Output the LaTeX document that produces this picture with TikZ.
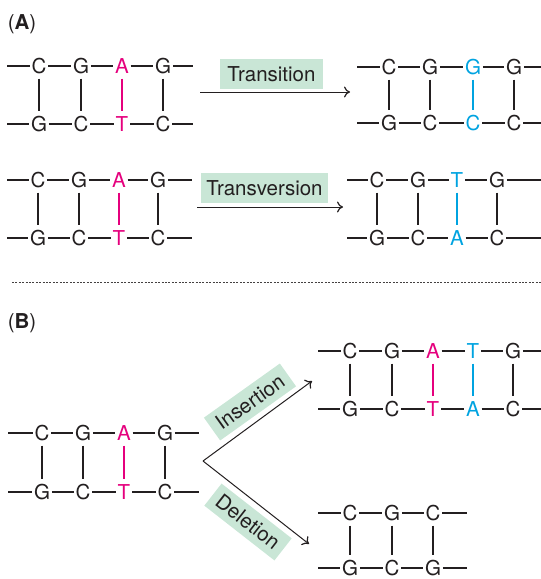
\documentclass[tikz,border=0pt]{standalone}
\usepackage{fontspec}
\setmainfont{TeX Gyre Heros}
\usetikzlibrary{arrows.meta}
\definecolor{ink}{RGB}{35,31,32}
\definecolor{mag}{RGB}{229,0,125}
\definecolor{cyn}{RGB}{0,163,224}
\definecolor{boxg}{RGB}{201,230,214}
\tikzset{
  nt/.style={font=\fontsize{20.5}{20.5}\selectfont, inner xsep=1.6pt, inner ysep=1pt, text height=14.7pt, text depth=0pt},
  strand/.style={draw=ink, line width=1.3pt},
  bar/.style={line width=1.1pt},
  lab/.style={fill=boxg, text=ink, font=\fontsize{20.5}{20.5}\selectfont, inner xsep=5pt, minimum height=30pt, text height=14.5pt, text depth=0pt},
  arr/.style={draw=ink, line width=1pt, -{Computer Modern Rightarrow[length=6pt,width=11pt,line width=1.2pt]}},
  plabel/.style={text=ink, font=\fontsize{20.5}{20.5}\selectfont, inner sep=0pt}
}
% #1 prefix, #2 top y, #3 bottom y, #4 line start x, #5 line end x, #6 count, #7 list x/top/bottom/colour
\newcommand{\mydna}[7]{%
  \coordinate (#1ts) at (#4,#2); \coordinate (#1te) at (#5,#2);
  \coordinate (#1bs) at (#4,#3); \coordinate (#1be) at (#5,#3);
  \foreach \xx/\tl/\bl/\cc [count=\i] in {#7} {
    \node[nt,text=\cc] (#1t\i) at (\xx,#2) {\tl};
    \node[nt,text=\cc] (#1b\i) at (\xx,#3) {\bl};
    \draw[bar,draw=\cc] ([yshift=-4pt]#1t\i.south) -- ([yshift=4pt]#1b\i.north);
  }
  \draw[strand] (#1ts) -- (#1t1);
  \draw[strand] (#1bs) -- (#1b1);
  \draw[strand] (#1t#6) -- (#1te);
  \draw[strand] (#1b#6) -- (#1be);
  \foreach \i [evaluate=\i as \j using int(\i+1)] in {1,...,#6} {
    \ifnum\i<#6\relax
      \draw[strand] (#1t\i) -- (#1t\j);
      \draw[strand] (#1b\i) -- (#1b\j);
    \fi
  }
}
\begin{document}
\begin{tikzpicture}[x=1pt,y=-1pt]
\useasboundingbox (0,0) rectangle (541,579);

% panel labels
\node[plabel] (pa) at (22,24) {(\textbf{A})};
\node[plabel] (pb) at (22,323) {(\textbf{B})};

% Transition
\mydna{a}{66}{124}{7}{193}{4}{39/C/G/ink,81/G/C/ink,122/A/T/mag,163/G/C/ink}
\mydna{c}{67}{123}{357}{541}{4}{389/C/G/ink,430/G/C/ink,473/G/C/cyn,514/G/C/ink}
\coordinate (a1s) at (200,92); \coordinate (a1e) at (350,92);
\node[lab, minimum width=103pt] (l1) at (271.5,74) {Transition};
\draw[arr] (a1s) -- (a1e);

% Transversion
\mydna{d}{180}{238}{7}{192}{4}{38/C/G/ink,79/G/C/ink,119/A/T/mag,158/G/C/ink}
\mydna{e}{180}{238}{347}{541}{4}{377/C/G/ink,418/G/C/ink,457/T/A/cyn,497/G/C/ink}
\coordinate (a2s) at (197,207); \coordinate (a2e) at (343,207);
\node[lab, minimum width=125pt] (l2) at (264.5,188) {Transversion};
\draw[arr] (a2s) -- (a2e);

% divider
\coordinate (dv1) at (12,282); \coordinate (dv2) at (541,282);
\draw[draw=ink!85, line width=0.9pt, dash pattern=on 2pt off 1.4pt] (dv1) -- (dv2);

% Panel B
\mydna{f}{433}{492}{8}{199}{4}{42/C/G/ink,83/G/C/ink,124/A/T/mag,165/G/C/ink}
\mydna{g}{351}{409}{318}{541}{5}{350/C/G/ink,392/G/C/ink,433/A/T/mag,473/T/A/cyn,513/G/C/ink}
\mydna{h}{513}{568}{318}{467}{3}{350/C/G/ink,392/G/C/ink,433/C/G/ink}

\coordinate (fork) at (203,461);
\coordinate (ie) at (312,381);
\coordinate (de) at (309,544);
\draw[arr] (fork) -- (ie);
\draw[arr] (fork) -- (de);
\node[lab, inner xsep=7pt, minimum height=28pt, rotate=35.5] (l3) at (250,402) {Insertion};
\node[lab, inner xsep=7pt, minimum height=28pt, rotate=-38] (l4) at (248,522) {Deletion};
\end{tikzpicture}
\end{document}
